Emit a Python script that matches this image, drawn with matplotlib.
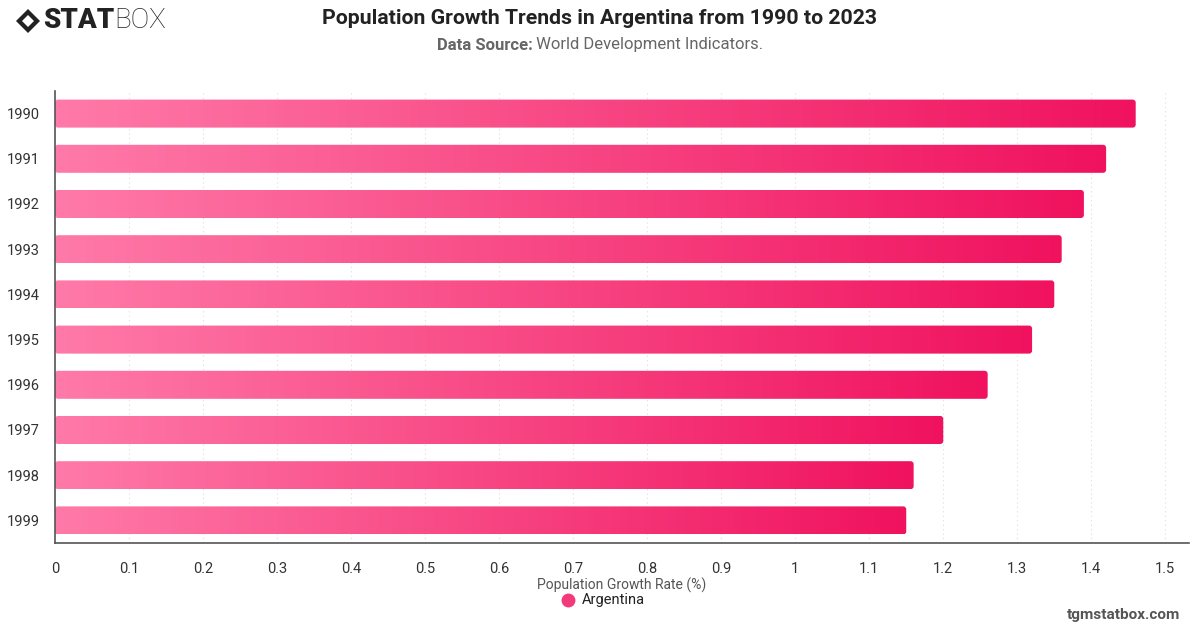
import matplotlib
matplotlib.use("Agg")
import matplotlib.pyplot as plt
import numpy as np
from matplotlib.patches import FancyBboxPatch, Polygon
from matplotlib.colors import LinearSegmentedColormap

years = ["1990", "1991", "1992", "1993", "1994", "1995", "1996", "1997", "1998", "1999"]
growth = [1.46, 1.42, 1.39, 1.36, 1.35, 1.32, 1.26, 1.20, 1.16, 1.15]
xticks = [0, 0.1, 0.2, 0.3, 0.4, 0.5, 0.6, 0.7, 0.8, 0.9, 1, 1.1, 1.2, 1.3, 1.4, 1.5]
xtick_labels = ["0", "0.1", "0.2", "0.3", "0.4", "0.5", "0.6", "0.7", "0.8", "0.9", "1", "1.1", "1.2", "1.3", "1.4", "1.5"]

plt.rcParams['font.family'] = ['Roboto', 'DejaVu Sans']

W, H = 1200, 628
fig = plt.figure(figsize=(W/100, H/100), dpi=100)
ax_left, ax_right, ax_top, ax_bot = 55, 1189, 91, 543
ax = fig.add_axes([ax_left/W, 1-ax_bot/H, (ax_right-ax_left)/W, (ax_bot-ax_top)/H])

xmax = 1.532
n = len(years)
ax.set_xlim(0, xmax)
ax.set_ylim(n-0.5, -0.5)

cmap = LinearSegmentedColormap.from_list("pk", ["#FF7AA8", "#F0125E"])
grad = np.linspace(0, 1, 256).reshape(1, -1)
bh = 0.62
px_x = (ax_right-ax_left)/xmax
px_y = (ax_bot-ax_top)/n
r_px = 3
rx = r_px/px_x
aspect = (r_px/px_y)/rx
for i, v in enumerate(growth):
    patch = FancyBboxPatch((0, i-bh/2), v, bh,
                           boxstyle=f"round,pad=0,rounding_size={rx}",
                           mutation_aspect=aspect, linewidth=0, facecolor='none')
    ax.add_patch(patch)
    im = ax.imshow(grad, extent=[0, v, i+bh/2, i-bh/2], cmap=cmap, aspect='auto', zorder=2)
    im.set_clip_path(patch)

ax.set_xlim(0, xmax)
ax.set_ylim(n-0.5, -0.5)
ax.set_yticks(range(n))
ax.set_yticklabels(years, fontsize=10.5, color='#333333')
ax.set_xticks(xticks)
ax.set_xticklabels(xtick_labels, fontsize=10.5, color='#333333')
ax.tick_params(axis='both', length=0)
ax.tick_params(axis='y', pad=11)
ax.tick_params(axis='x', pad=14)
ax.grid(axis='x', color='#dddddd', linestyle=(0, (1, 3)), linewidth=0.8, zorder=0)
ax.set_axisbelow(True)
for s in ['top', 'right']:
    ax.spines[s].set_visible(False)
for s in ['left', 'bottom']:
    ax.spines[s].set_color('#555555')
    ax.spines[s].set_linewidth(1.2)

# Titles
fig.text(600/W, 1-18/H, "Population Growth Trends in Argentina from 1990 to 2023",
         ha='center', va='center', fontsize=15.3, fontweight='bold', color='#222222')
t1 = fig.text(0, 1-45/H, "Data Source:", ha='left', va='center', fontsize=12.0,
              fontweight='bold', color='#666666')
t2 = fig.text(0, 1-45/H, " World Development Indicators.", ha='left', va='center',
              fontsize=12.0, color='#666666')
fig.canvas.draw()
r = fig.canvas.get_renderer()
w1 = t1.get_window_extent(r).width
w2 = t2.get_window_extent(r).width
x0 = 600 - (w1+w2)/2
t1.set_x(x0/W)
t2.set_x((x0+w1)/W)

# x label & legend
fig.text(622/W, 1-585/H, "Population Growth Rate (%)", ha='center', va='center',
         fontsize=10, color='#555555')
fig.lines.append(plt.Line2D([568/W], [1-600/H], marker='o', markersize=9,
                            markerfacecolor='#F23A7A', markeredgecolor='#F23A7A',
                            transform=fig.transFigure))
fig.text(582/W, 1-600/H, "Argentina", ha='left', va='center', fontsize=10.5, color='#222222')

# watermark
fig.text(1180/W, 1-615/H, "tgmstatbox.com", ha='right', va='center', fontsize=11,
         fontweight='bold', color='#555555')

# logo
cx, cy, s = 28, 21, 12
outer = [(cx-s, cy), (cx, cy-s), (cx+s, cy), (cx, cy+s)]
fig.patches.append(Polygon([(x/W, 1-y/H) for x, y in outer], closed=True,
                           facecolor='#222222', edgecolor='none', transform=fig.transFigure))
s2 = 6
inner = [(cx-s2, cy), (cx, cy-s2), (cx+s2, cy), (cx, cy+s2)]
fig.patches.append(Polygon([(x/W, 1-y/H) for x, y in inner], closed=True,
                           facecolor='white', edgecolor='none', transform=fig.transFigure))
l1 = fig.text(43/W, 1-21/H, "STAT", ha='left', va='center', fontsize=20,
              fontweight='heavy', color='#222222')
fig.canvas.draw()
wl = l1.get_window_extent(r).width
fig.text((43+wl)/W, 1-21/H, "BOX", ha='left', va='center', fontsize=20,
         fontweight='light', color='#222222')

fig.savefig("out.png", dpi=100)
